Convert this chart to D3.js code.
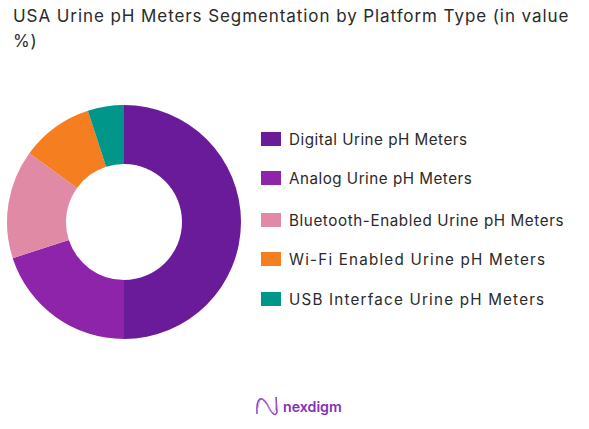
<!DOCTYPE html>
<html><head><meta charset="utf-8">
<script src="https://cdn.jsdelivr.net/npm/d3@7"></script>
<style>html,body{margin:0;background:#fff}svg{display:block}text{font-family:Inter,"Noto Sans",sans-serif}</style>
</head><body><svg id="c" width="589" height="429"></svg>
<script>
const categories=["Digital Urine pH Meters","Analog Urine pH Meters","Bluetooth-Enabled Urine pH Meters","Wi-Fi Enabled Urine pH Meters","USB Interface Urine pH Meters"];
const values=[50,20,15,10,5];
const colors=["#6a1b9a","#8e24aa","#e08aa6","#f57f20","#00968a"];
const titleLines=["USA Urine pH Meters Segmentation by Platform Type (in value","%)"];
const legendY=[139,178,220,259,299];
const svg=d3.select("#c");
svg.append("rect").attr("width",589).attr("height",429).attr("fill","#fff");
svg.selectAll("text.t").data(titleLines).join("text").attr("class","t").attr("x",13).attr("y",(d,i)=>22+i*25)
 .attr("font-size",17).attr("letter-spacing",0.92).attr("fill","#2a2a2a").text(d=>d);
const pie=d3.pie().sort(null).value(d=>d);
const arc=d3.arc().innerRadius(58).outerRadius(117);
svg.append("g").attr("transform","translate(124,222)").selectAll("path").data(pie(values)).join("path")
 .attr("d",arc).attr("fill",(d,i)=>colors[i]);
const lg=svg.append("g").selectAll("g").data(categories).join("g").attr("transform",(d,i)=>`translate(261,${legendY[i]})`);
lg.append("rect").attr("y",-7).attr("width",20).attr("height",14).attr("fill",(d,i)=>colors[i]);
lg.append("text").attr("x",28).attr("y",5.5).attr("font-size",15.2).attr("letter-spacing",(d,i)=>[0.5,0.5,0.6,1.2,1.2][i]).attr("fill","#2a2a2a").text(d=>d);
const logo=svg.append("g").attr("fill","none").attr("stroke","#8e3fc0");
logo.append("path").attr("stroke-width",1.5).attr("d","M257 414C256 396 262 396 267 404C271 412 275 418 277 412L276 397");
logo.append("path").attr("stroke-width",0.8).attr("stroke","#c08ae0").attr("d","M258 408C260 394 265 398 269 408C272 415 276 414 276 403");
svg.append("text").attr("x",283).attr("y",411.5).attr("font-size",14.2).attr("font-weight",600).attr("fill","#8330b8").text("nexdigm");
</script></body></html>
